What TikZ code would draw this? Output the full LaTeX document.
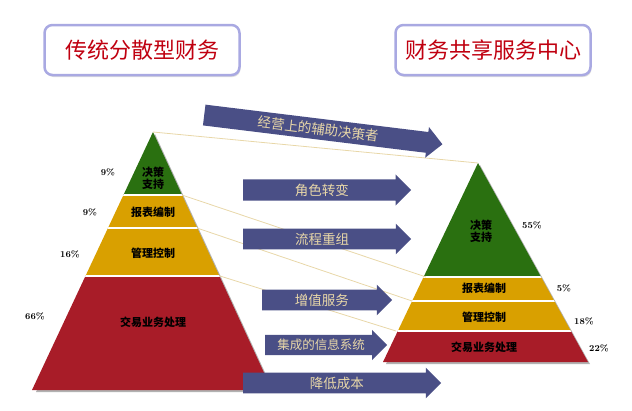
\documentclass[tikz,border=0pt]{standalone}
\usepackage{fontspec}
\newfontfamily\cjk{Noto Sans CJK SC}
\usetikzlibrary{shapes.arrows,shadows}
\definecolor{grn}{HTML}{2A7010}
\definecolor{ylw}{HTML}{D9A000}
\definecolor{rd}{HTML}{A81C28}
\definecolor{arrc}{HTML}{4A4F86}
\definecolor{tan}{HTML}{E8D7A8}
\definecolor{ttl}{HTML}{C00010}
\tikzset{
 arr/.style={single arrow, fill=arrc, draw=none, text=tan, font=\cjk\fontsize{13.5}{13.5}\selectfont,
   inner ysep=4pt, single arrow head extend=5pt, anchor=west, align=center},
 ttlbox/.style={draw=gray!50!blue!45, line width=2.5pt, rounded corners=8pt, fill=white,
   minimum width=195pt, minimum height=50pt, font=\cjk\fontsize{22}{22}\selectfont, text=ttl,
   drop shadow={shadow xshift=1pt, shadow yshift=-2pt, fill=gray!50}},
 lbl/.style={font=\cjk\fontsize{11}{12}\selectfont\bfseries, align=center},
 pct/.style={font=\bfseries\fontsize{9}{9}\selectfont},
 link/.style={draw=tan, line width=0.8pt}
}
\begin{document}
\begin{tikzpicture}[x=1pt,y=-1pt]
\useasboundingbox (0,0) rectangle (632,410);
% titles
\node[ttlbox] (t1) at (142,50) {传统分散型财务};
\node[ttlbox] (t2) at (493,50) {财务共享服务中心};
% left pyramid shadow
\fill[gray!60] (155,134) -- (274,392) -- (36,392) -- cycle;
\begin{scope}
\clip (153,132) -- (272,390) -- (32,390) -- cycle;
\fill[grn] (0,120) rectangle (300,195);
\fill[ylw] (0,195) rectangle (300,276);
\fill[rd] (0,276) rectangle (300,400);
\draw[white,line width=1.5pt] (0,195)--(300,195) (0,228)--(300,228) (0,276)--(300,276);
\end{scope}
% right pyramid
\fill[gray!60] (480,165) -- (590,364) -- (386,364) -- cycle;
\begin{scope}
\clip (478,163) -- (588,362) -- (383,362) -- cycle;
\fill[grn] (350,150) rectangle (620,277);
\fill[ylw] (350,277) rectangle (620,331);
\fill[rd] (350,331) rectangle (620,370);
\draw[white,line width=1.5pt] (350,277)--(620,277) (350,301)--(620,301) (350,331)--(620,331);
\end{scope}
% links
\coordinate (la) at (153,132); \coordinate (ra) at (478,163);
\coordinate (l1) at (182,195); \coordinate (r1) at (426,277);
\coordinate (l2) at (197,228); \coordinate (r2) at (412,301);
\coordinate (l3) at (220,276); \coordinate (r3) at (396,331);
\draw[link] (la)--(ra) (l1)--(r1) (l2)--(r2) (l3)--(r3);
% labels left
\node[lbl] (a1) at (153,178) {决策\\支持};
\node[lbl] (a2) at (153,212) {报表编制};
\node[lbl] (a3) at (153,253) {管理控制};
\node[lbl] (a4) at (153,322) {交易业务处理};
\node[pct] (p1) at (108,172) {9\%};
\node[pct] (p2) at (90,212) {9\%};
\node[pct] (p3) at (70,254) {16\%};
\node[pct] (p4) at (35,316) {66\%};
% labels right
\node[lbl] (b1) at (481,231) {决策\\支持};
\node[lbl] (b2) at (484,288) {报表编制};
\node[lbl] (b3) at (484,317) {管理控制};
\node[lbl] (b4) at (484,347) {交易业务处理};
\node[pct] (q1) at (532,225) {55\%};
\node[pct] (q2) at (564,288) {5\%};
\node[pct] (q3) at (584,321) {18\%};
\node[pct] (q4) at (599,348) {22\%};
% arrows
\node[arr, minimum height=240pt, rotate=-7] (e1) at (204,115) {经营上的辅助决策者};
\node[arr, minimum height=168pt] (e2) at (243,190) {角色转变};
\node[arr, minimum height=168pt] (e3) at (243,239) {流程重组};
\node[arr, minimum height=130pt] (e4) at (262,300) {增值服务};
\node[arr, minimum height=122pt, font=\cjk\fontsize{12.5}{12.5}\selectfont] (e5) at (265,345) {集成的信息系统};
\node[arr, minimum height=198pt] (e6) at (243,383) {降低成本};
\end{tikzpicture}
\end{document}
